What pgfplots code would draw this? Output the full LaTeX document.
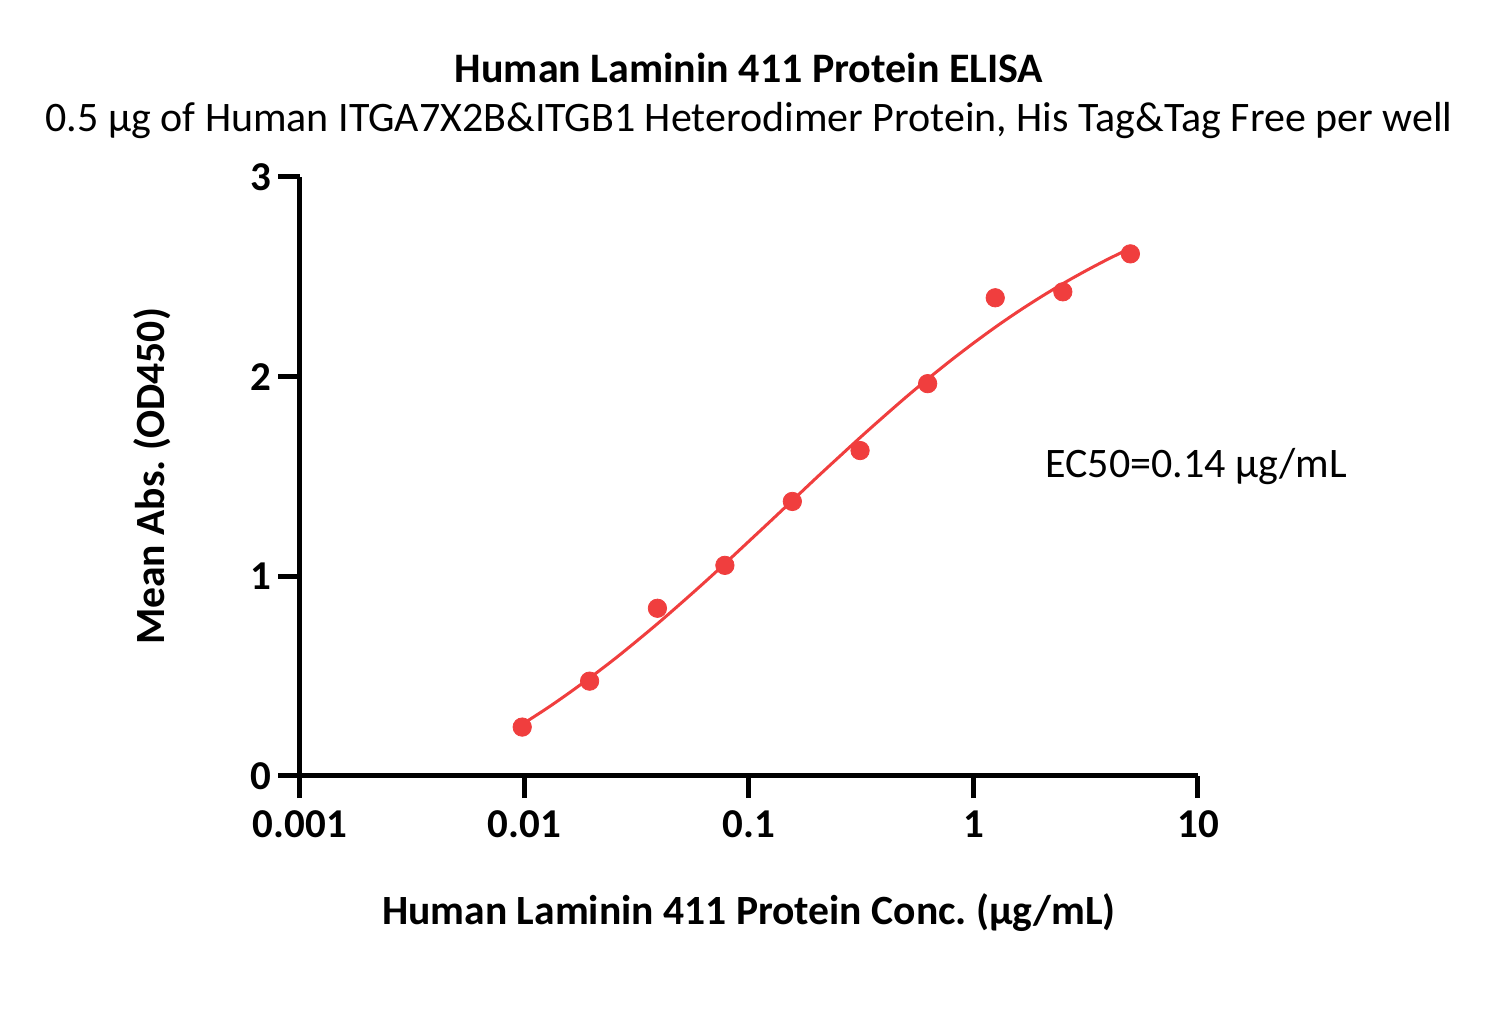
\documentclass[border=0pt]{standalone}
\usepackage{pgfplots}
\pgfplotsset{compat=1.18}
\usepackage{fontspec}
\setmainfont{Carlito}
\definecolor{ptred}{RGB}{240,62,62}
\begin{document}
\frenchspacing
\begin{tikzpicture}
\useasboundingbox (0,0) rectangle (750bp,516bp);
\begin{axis}[
  at={(150bp,128bp)}, anchor=south west,
  scale only axis, width=449bp, height=299.5bp,
  xmode=log, xmin=0.001, xmax=10, ymin=0, ymax=3,
  axis x line*=bottom, axis y line*=left,
  axis line style={line width=2.5bp,-},
  every tick/.style={line width=2.5bp,black},
  tick align=outside, major tick length=11bp,
  xminorticks=false, yminorticks=false,
  xtick={0.001,0.01,0.1,1,10},
  xticklabels={0.001,0.01,0.1,1,10},
  ytick={0,1,2,3}, yticklabels={0,1,2,3},
  ticklabel style={font=\fontsize{20.5bp}{24bp}\selectfont\bfseries},
  xticklabel style={yshift=-3bp},
  xlabel={Human Laminin 411 Protein Conc. (µg/mL)},
  ylabel={Mean Abs. (OD450)},
  label style={font=\fontsize{20.8bp}{24bp}\selectfont\bfseries},
  xlabel style={at={(axis description cs:0.5,-0.2287)},anchor=center},
  ylabel style={at={(axis description cs:-0.1648,0.5)},anchor=center},
  clip=false,
]
\addplot[ptred, line width=1.5bp, smooth] coordinates {
(0.00977,0.259) (0.01259,0.339) (0.01585,0.417) (0.01995,0.499) (0.02512,0.585)
(0.03162,0.676) (0.03981,0.770) (0.05012,0.868) (0.0631,0.968) (0.07943,1.071)
(0.1,1.176) (0.1259,1.281) (0.1585,1.387) (0.1995,1.493) (0.2512,1.597)
(0.3162,1.700) (0.3981,1.800) (0.5012,1.898) (0.631,1.992) (0.7943,2.082)
(1,2.168) (1.259,2.250) (1.585,2.327) (1.995,2.399) (2.512,2.467)
(3.162,2.530) (3.981,2.589) (5.0,2.643)};
\addplot[only marks, mark=*, mark size=4.6bp, ptred, mark options={draw=ptred,fill=ptred}] coordinates {
(0.00977,0.245) (0.0195,0.475) (0.0391,0.84) (0.0781,1.055) (0.156,1.375)
(0.3125,1.63) (0.625,1.965) (1.25,2.395) (2.5,2.425) (5.0,2.615)};
\node[anchor=west,inner sep=0pt,font=\fontsize{21bp}{24bp}\selectfont] at (axis cs:2.08,1.55) {EC50=0.14 µg/mL};
\node[anchor=center,font=\fontsize{21bp}{24bp}\selectfont\bfseries] at (axis description cs:0.5,1.182) {Human Laminin 411 Protein ELISA};
\node[anchor=center,font=\fontsize{21bp}{24bp}\selectfont] at (axis description cs:0.5,1.095) {0.5 µg of Human ITGA7X2B\&ITGB1 Heterodimer Protein, His Tag\&Tag Free per well};
\end{axis}
\end{tikzpicture}
\end{document}
